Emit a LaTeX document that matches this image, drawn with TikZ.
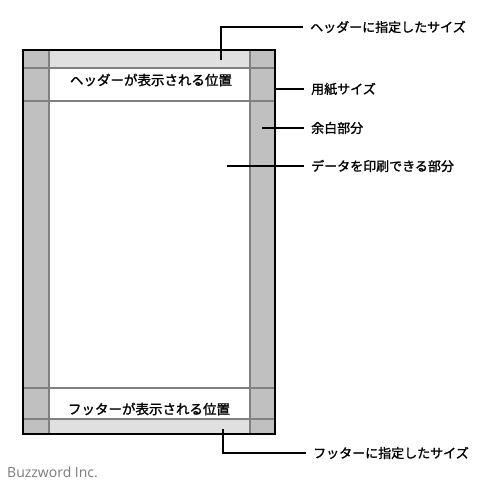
\documentclass[tikz,border=0pt]{standalone}
\usepackage{fontspec}
\setmainfont{Noto Sans CJK JP}
\newfontfamily\jpfont{Noto Sans CJK JP}[FakeBold=1.4]
\newfontfamily\brandfont{Open Sans}
\usetikzlibrary{positioning}
\definecolor{margingray}{HTML}{C0C0C0}
\definecolor{bandgray}{HTML}{E0E0E0}
\definecolor{rulegray}{HTML}{808080}
\definecolor{brandgray}{HTML}{7A7A7A}

\begin{document}
\begin{tikzpicture}[x=1pt,y=-1pt,
    areatext/.style={font=\jpfont\fontsize{13.5}{15}\selectfont,inner sep=0pt},
    callout/.style={anchor=west,font=\jpfont\fontsize{13}{15}\selectfont,inner xsep=7pt,inner ysep=0pt},
    leader/.style={line width=1.5pt},
    guide/.style={rulegray,line width=1.6pt}]
  \useasboundingbox (0,0) rectangle (498,482);
  % paper with margins
  \fill[margingray] (23,50) rectangle (49,434);
  \fill[margingray] (250,50) rectangle (275,434);
  \fill[bandgray] (49,50) rectangle (250,68);
  \fill[bandgray] (49,419) rectangle (250,434);
  \draw[guide] (49,50) -- (49,434);
  \draw[guide] (250,50) -- (250,434);
  \draw[guide] (23,68) -- (275,68);
  \draw[guide] (23,101) -- (275,101);
  \draw[guide] (23,388) -- (275,388);
  \draw[guide] (23,419) -- (275,419);
  \draw[line width=2pt] (23,50) rectangle (275,434);
  \node[areatext] (header) at (151,80) {ヘッダーが表示される位置};
  \node[areatext] (footer) at (149,409) {フッターが表示される位置};
  % callouts
  \node[callout] (hdrsize) at (303,27) {ヘッダーに指定したサイズ};
  \node[callout] (paper) at (304,89) {用紙サイズ};
  \node[callout] (margin) at (304,128) {余白部分};
  \node[callout] (printable) at (304,166) {データを印刷できる部分};
  \node[callout] (ftrsize) at (306,453) {フッターに指定したサイズ};
  \coordinate (hdrpt) at (221,60);
  \coordinate (paperpt) at (275,89);
  \coordinate (marginpt) at (262,128);
  \coordinate (printpt) at (227,166);
  \coordinate (ftrpt) at (223,429);
  \draw[leader] (hdrpt) |- (hdrsize.west);
  \draw[leader] (paperpt) -- (paper.west);
  \draw[leader] (marginpt) -- (margin.west);
  \draw[leader] (printpt) -- (printable.west);
  \draw[leader] (ftrpt) |- (ftrsize.west);
  \node[anchor=west,inner sep=0pt,text=brandgray,font=\brandfont\fontsize{14}{16}\selectfont] (brand) at (7,472) {Buzzword Inc.};
\end{tikzpicture}
\end{document}
